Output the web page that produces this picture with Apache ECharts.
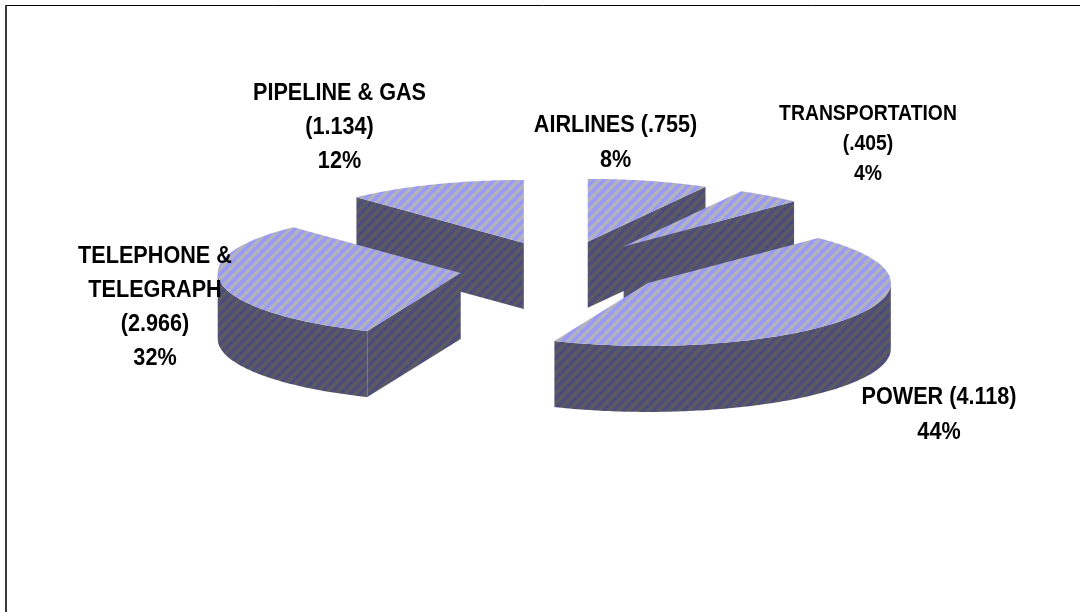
<!DOCTYPE html>
<html>
<head>
<meta charset="utf-8">
<style>html,body{margin:0;padding:0;background:#fff}#c{width:1080px;height:612px}</style>
<script src="https://cdn.jsdelivr.net/npm/echarts@6/dist/echarts.min.js"></script>
</head>
<body>
<div id="c"></div>
<script>
const categories = ['AIRLINES', 'TRANSPORTATION', 'POWER', 'TELEPHONE &\nTELEGRAPH', 'PIPELINE & GAS'];
const valueLabels = ['(.755)', '(.405)', '(4.118)', '(2.966)', '(1.134)'];
const values = [0.755, 0.405, 4.118, 2.966, 1.134];
const percents = ['8%', '4%', '44%', '32%', '12%'];
const labelSep = [' ', '\n', ' ', '\n', '\n'];

// Layout (not data): pie projection and label anchors
const PIE = { cx: 562, cy: 268, a: 243, b: 63, depth: 66, explode: 103 };
const LABEL_LAYOUT = [
  { x: 615.5, y: 143.5, size: 23, lh: 35, sx: 0.94 },
  { x: 868, y: 143.5, size: 22, lh: 30, sx: 0.88 },
  { x: 939, y: 415.5, size: 23, lh: 35, sx: 0.94 },
  { x: 155, y: 308, size: 23, lh: 34, sx: 0.94 },
  { x: 339.5, y: 128, size: 23, lh: 34, sx: 0.94 }
];

function stripes(c1, c2) {
  const n = 10, cv = document.createElement('canvas');
  cv.width = n; cv.height = n;
  const g = cv.getContext('2d');
  const img = g.createImageData(n, n);
  for (let y = 0; y < n; y++) for (let x = 0; x < n; x++) {
    const w = 0.5 + 0.5 * Math.cos(2 * Math.PI * ((x + y - 3 + n) % n) / n);
    const o = (y * n + x) * 4;
    for (let k = 0; k < 3; k++) img.data[o + k] = c1[k] * w + c2[k] * (1 - w);
    img.data[o + 3] = 255;
  }
  g.putImageData(img, 0, 0);
  return cv;
}
const topFill = { image: stripes([150, 150, 255], [182, 182, 182]), repeat: 'repeat' };
const wallFill = { image: stripes([74, 74, 128], [93, 93, 93]), repeat: 'repeat' };

const total = values.reduce((s, v) => s + v, 0);
let acc = 0;
const slices = values.map((v, i) => {
  const s = acc / total * 2 * Math.PI; acc += v;
  const e = acc / total * 2 * Math.PI, m = (s + e) / 2;
  return { i, s, e,
    x: PIE.cx + PIE.explode * Math.sin(m),
    y: PIE.cy - PIE.explode * Math.cos(m) * 0.262 };
});
const drawOrder = slices.slice().sort((p, q) => p.y - q.y).map(p => p.i);

function onRim(sl, t) {
  return [sl.x + PIE.a * Math.sin(t), sl.y - PIE.b * Math.cos(t)];
}
function rim(sl, t0, t1) {
  const pts = [], n = Math.max(2, Math.ceil((t1 - t0) * 60));
  for (let k = 0; k <= n; k++) pts.push(onRim(sl, t0 + (t1 - t0) * k / n));
  return pts;
}
const down = p => [p[0], p[1] + PIE.depth];

function renderSlice(params) {
  const sl = slices[drawOrder[params.dataIndex]];
  const kids = [];
  const poly = (points, fill) => kids.push({
    type: 'polygon', shape: { points }, style: { fill, stroke: null, lineWidth: 0 }
  });
  const c = [sl.x, sl.y];
  if (Math.sin(sl.s) < 0) { const p = onRim(sl, sl.s); poly([c, p, down(p), down(c)], wallFill); }
  if (Math.sin(sl.e) > 0) { const p = onRim(sl, sl.e); poly([c, p, down(p), down(c)], wallFill); }
  const f0 = Math.max(sl.s, Math.PI / 2), f1 = Math.min(sl.e, 3 * Math.PI / 2);
  if (f1 > f0) {
    const r = rim(sl, f0, f1);
    poly(r.concat(r.slice().reverse().map(down)), wallFill);
  }
  poly([c].concat(rim(sl, sl.s, sl.e)), topFill);
  return { type: 'group', children: kids };
}

function renderLabel(params) {
  const i = params.dataIndex, L = LABEL_LAYOUT[i];
  return {
    type: 'text', z2: 100, x: L.x, y: L.y, scaleX: L.sx,
    style: {
      x: 0, y: 0, fill: '#000',
      text: categories[i] + labelSep[i] + valueLabels[i] + '\n' + percents[i],
      font: 'bold ' + L.size + 'px "Liberation Sans"',
      lineHeight: L.lh, align: 'center', verticalAlign: 'middle'
    }
  };
}

const chart = echarts.init(document.getElementById('c'), null, { renderer: 'canvas' });
chart.setOption({
  animation: false,
  backgroundColor: '#fff',
  graphic: [
    { type: 'line', shape: { x1: 5, y1: 5.5, x2: 1080, y2: 5.5 }, style: { stroke: '#000', lineWidth: 1 } },
    { type: 'line', shape: { x1: 6, y1: 5, x2: 6, y2: 612 }, style: { stroke: '#3a3a3a', lineWidth: 2 } }
  ],
  series: [
    { type: 'custom', coordinateSystem: 'none', data: drawOrder.map(i => values[i]), renderItem: renderSlice, silent: true, z: 2 },
    { type: 'custom', coordinateSystem: 'none', data: categories, renderItem: renderLabel, silent: true, z: 3 }
  ]
});
</script>
</body>
</html>
